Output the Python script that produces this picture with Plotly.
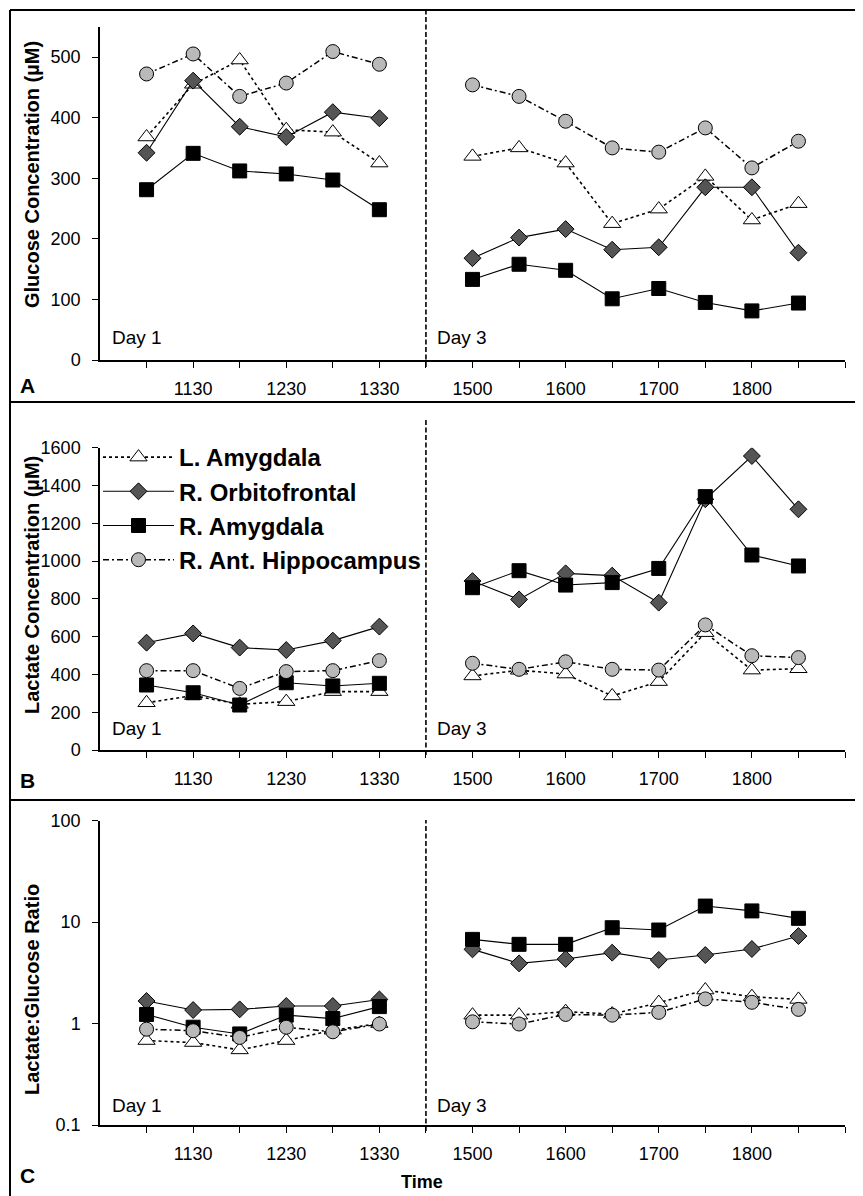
import plotly.graph_objects as go

# The page body has an 8px default margin; the figure is sized/offset to fit it.
PAGE_W, PAGE_H = 863, 1196
OFF = 8
W, H = PAGE_W - OFF, PAGE_H - OFF

# ---------------- data ----------------
day1_times = ["1100", "1130", "1200", "1230", "1300", "1330"]
day3_times = ["1500", "1530", "1600", "1630", "1700", "1730", "1800", "1830"]
labeled_times = ["1130", "1230", "1330", "1500", "1600", "1700", "1800"]
series_names = ["L. Amygdala", "R. Orbitofrontal", "R. Amygdala", "R. Ant. Hippocampus"]

# Panel A: glucose (uM)
glu_l_amyg_d1 = [368, 455, 495, 380, 376, 325]
glu_l_amyg_d3 = [336, 350, 325, 225, 249, 303, 231, 258]
glu_r_orbi_d1 = [342, 461, 385, 368, 409, 399]
glu_r_orbi_d3 = [168, 202, 216, 182, 186, 285, 285, 177]
glu_r_amyg_d1 = [281, 341, 312, 307, 297, 248]
glu_r_amyg_d3 = [133, 158, 148, 101, 118, 95, 81, 94]
glu_r_hipp_d1 = [472, 505, 435, 457, 509, 488]
glu_r_hipp_d3 = [454, 435, 394, 350, 343, 383, 317, 361]

# Panel B: lactate (uM)
lac_l_amyg_d1 = [250, 288, 242, 256, 309, 309]
lac_l_amyg_d3 = [392, 422, 402, 286, 362, 621, 423, 430]
lac_r_orbi_d1 = [568, 617, 542, 529, 579, 653]
lac_r_orbi_d3 = [894, 797, 935, 923, 780, 1327, 1556, 1274]
lac_r_amyg_d1 = [344, 303, 238, 356, 339, 353]
lac_r_amyg_d3 = [859, 949, 873, 886, 961, 1341, 1032, 974]
lac_r_hipp_d1 = [420, 420, 326, 415, 420, 473]
lac_r_hipp_d3 = [459, 427, 467, 427, 423, 662, 499, 489]

# Panel C: lactate:glucose ratio
rat_l_amyg_d1 = [0.68, 0.65, 0.55, 0.68, 0.86, 1.0]
rat_l_amyg_d3 = [1.21, 1.21, 1.31, 1.24, 1.61, 2.14, 1.84, 1.73]
rat_r_orbi_d1 = [1.67, 1.36, 1.38, 1.49, 1.49, 1.73]
rat_r_orbi_d3 = [5.39, 3.92, 4.33, 5.0, 4.24, 4.74, 5.43, 7.29]
rat_r_amyg_d1 = [1.23, 0.92, 0.79, 1.21, 1.12, 1.47]
rat_r_amyg_d3 = [6.76, 6.04, 6.04, 8.81, 8.36, 14.4, 12.9, 10.9]
rat_r_hipp_d1 = [0.88, 0.85, 0.73, 0.92, 0.83, 0.99]
rat_r_hipp_d3 = [1.04, 0.99, 1.23, 1.21, 1.29, 1.75, 1.62, 1.38]

panels = [
    [(glu_l_amyg_d1, glu_l_amyg_d3), (glu_r_orbi_d1, glu_r_orbi_d3),
     (glu_r_amyg_d1, glu_r_amyg_d3), (glu_r_hipp_d1, glu_r_hipp_d3)],
    [(lac_l_amyg_d1, lac_l_amyg_d3), (lac_r_orbi_d1, lac_r_orbi_d3),
     (lac_r_amyg_d1, lac_r_amyg_d3), (lac_r_hipp_d1, lac_r_hipp_d3)],
    [(rat_l_amyg_d1, rat_l_amyg_d3), (rat_r_orbi_d1, rat_r_orbi_d3),
     (rat_r_amyg_d1, rat_r_amyg_d3), (rat_r_hipp_d1, rat_r_hipp_d3)],
]

# ---------------- layout helpers ----------------
FONT = "Arial, Liberation Sans, sans-serif"


def px(x):
    return (x - OFF) / W


def py(y):
    return 1 - (y - OFF) / H


# slot positions: 0 = axis origin, day1 at 1..6, separator 7, day3 at 8..15, end 16
slots = [""] + day1_times + ["|"] + day3_times + [""]
pos_of = {t: i for i, t in enumerate(slots) if t not in ("", "|")}
sep_pos = slots.index("|")
x_d1 = [pos_of[t] for t in day1_times]
x_d3 = [pos_of[t] for t in day3_times]

styles = [
    dict(symbol="triangle-up", size=15, fill="white", dash="dot", lw=1.6),
    dict(symbol="diamond", size=13, fill="#555555", dash="solid", lw=1.1),
    dict(symbol="square", size=14, fill="black", dash="solid", lw=1.1),
    dict(symbol="circle", size=14, fill="#b9b9b9", dash="6px,3px,2px,3px", lw=1.5),
]

fig = go.Figure()
axis_suffix = ["", "2", "3"]
for p, series in enumerate(panels):
    for s, (d1, d3) in enumerate(series):
        st = styles[s]
        xs = x_d1 + [sep_pos] + x_d3
        ys = list(d1) + [None] + list(d3)
        fig.add_trace(go.Scatter(
            x=xs, y=ys, mode="lines+markers", name=series_names[s],
            xaxis="x" + axis_suffix[p], yaxis="y" + axis_suffix[p],
            connectgaps=False, showlegend=(p == 1), legendgroup=series_names[s],
            line=dict(color="black", width=st["lw"], dash=st["dash"]),
            marker=dict(symbol=st["symbol"], size=st["size"], color=st["fill"],
                        line=dict(color="black", width=1)),
        ))

tickvals = list(range(1, len(slots)))
ticktext = [slots[i] if slots[i] in labeled_times else "" for i in tickvals]

xdom = [px(100), px(845)]
ydoms = [[py(360), py(26.7)], [py(750), py(447.7)], [py(1125), py(820.7)]]

common_x = dict(range=[0, len(slots) - 1], domain=xdom, showgrid=False, zeroline=False,
                showline=True, linecolor="black", linewidth=1.5, ticks="outside",
                ticklen=6, tickwidth=1, tickcolor="black", tickvals=tickvals,
                ticktext=ticktext, tickfont=dict(family=FONT, size=18, color="black"),
                ticklabelstandoff=6, automargin=False)
common_y = dict(showgrid=False, zeroline=False, showline=True, linecolor="black",
                linewidth=1.5, ticks="outside", ticklen=6, tickwidth=1, tickcolor="black",
                tickfont=dict(family=FONT, size=18, color="black"), ticklabelstandoff=8,
                automargin=False)

layout = dict(
    width=W, height=H, margin=dict(l=0, r=0, t=0, b=0, autoexpand=False),
    paper_bgcolor="white", plot_bgcolor="rgba(0,0,0,0)",
    font=dict(family=FONT, color="black"),
    xaxis=dict(common_x, anchor="y"),
    xaxis2=dict(common_x, anchor="y2"),
    xaxis3=dict(common_x, anchor="y3"),
    yaxis=dict(common_y, anchor="x", domain=ydoms[0], range=[0, 550],
               tickvals=[0, 100, 200, 300, 400, 500]),
    yaxis2=dict(common_y, anchor="x2", domain=ydoms[1], range=[0, 1600],
                tickvals=[0, 200, 400, 600, 800, 1000, 1200, 1400, 1600]),
    yaxis3=dict(common_y, anchor="x3", domain=ydoms[2], type="log", range=[-1, 2],
                tickvals=[0.1, 1, 10, 100], ticktext=["0.1", "1", "10", "100"]),
    legend=dict(x=px(98), y=py(435), xanchor="left", yanchor="top",
                bgcolor="rgba(0,0,0,0)", borderwidth=0, itemwidth=71,
                tracegroupgap=0,
                font=dict(family=FONT, size=24, color="black", weight="bold")),
)
fig.update_layout(**layout)

shapes = []
# outer frame and panel separators
border = dict(type="line", xref="paper", yref="paper", line=dict(color="black", width=2))
shapes.append(dict(border, x0=px(10), x1=1, y0=py(10), y1=py(10)))
shapes.append(dict(border, x0=px(10), x1=px(10), y0=py(10), y1=0))
shapes.append(dict(border, x0=px(10), x1=1, y0=py(402), y1=py(402)))
shapes.append(dict(border, x0=px(10), x1=1, y0=py(800), y1=py(800)))
# dashed day separators
sep_spans = [(10, 367), (420, 755), (820, 1131)]
for p, (a, b) in enumerate(sep_spans):
    shapes.append(dict(type="line", xref="x" + axis_suffix[p], yref="paper",
                       x0=sep_pos, x1=sep_pos, y0=py(b), y1=py(a),
                       line=dict(color="black", width=1.6, dash="5px,2.5px")))
fig.update_layout(shapes=shapes)

ann = []
titles = [("Glucose Concentration (µM)", 175), ("Lactate Concentration (µM)", 585),
          ("Lactate:Glucose Ratio", 990)]
for t, yc in titles:
    ann.append(dict(text=t, x=px(32), y=py(yc), xref="paper", yref="paper",
                    textangle=-90, showarrow=False, xanchor="center", yanchor="middle",
                    font=dict(family=FONT, size=20, color="black", weight="bold")))
for lab, yc in [("A", 385), ("B", 780), ("C", 1175)]:
    ann.append(dict(text=lab, x=px(18), y=py(yc), xref="paper", yref="paper",
                    showarrow=False, xanchor="left", yanchor="middle",
                    font=dict(family=FONT, size=21, color="black", weight="bold")))
day_y = [337, 728, 1105]
for yc in day_y:
    ann.append(dict(text="Day 1", x=px(110), y=py(yc), xref="paper", yref="paper",
                    showarrow=False, xanchor="left", yanchor="middle",
                    font=dict(family=FONT, size=19, color="black")))
    ann.append(dict(text="Day 3", x=px(435), y=py(yc), xref="paper", yref="paper",
                    showarrow=False, xanchor="left", yanchor="middle",
                    font=dict(family=FONT, size=19, color="black")))
ann.append(dict(text="Time", x=px(422), y=py(1182), xref="paper", yref="paper",
                showarrow=False, xanchor="center", yanchor="middle",
                font=dict(family=FONT, size=18, color="black", weight="bold")))
fig.update_layout(annotations=ann)

fig.write_html("out.html")
